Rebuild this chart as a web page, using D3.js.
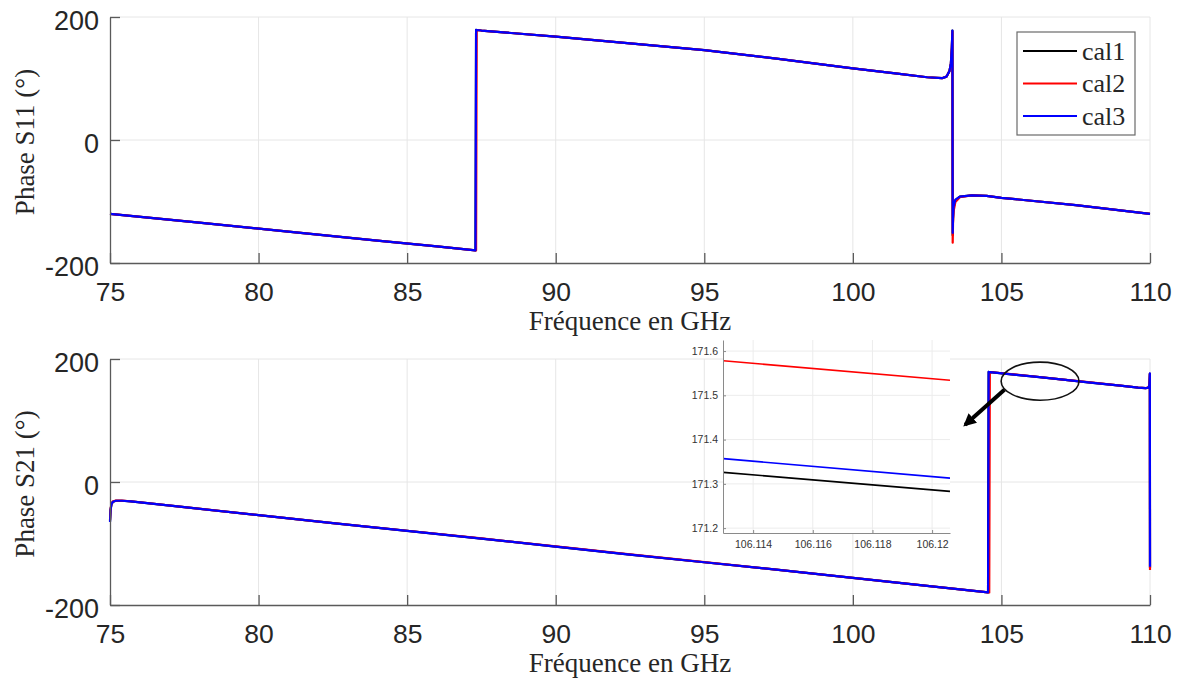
<!DOCTYPE html>
<html>
<head>
<meta charset="utf-8">
<script src="https://cdn.jsdelivr.net/npm/d3@7"></script>
<style>
  html, body { margin: 0; padding: 0; background: #fff; }
  svg { display: block; }
</style>
</head>
<body>
<div id="chart"></div>
<script>
// ---------------- DATA ----------------
const seriesNames = ["cal1", "cal2", "cal3"];
const seriesColors = ["#000000", "#ff0000", "#0000ff"];

const xTicks = [75, 80, 85, 90, 95, 100, 105, 110];
const yTicks = [-200, 0, 200];

// Phase S11 (deg) vs frequency (GHz)
const s11Freq = [75, 78, 81, 84, 86, 87.30, 87.32, 87.34, 87.5, 90, 92.5, 95, 97.5, 100, 101.5, 102.5, 103.0, 103.15, 103.25, 103.3, 103.33, 103.35, 103.36, 103.37, 103.39, 103.45, 103.6, 104, 104.5, 105, 107.5, 110];
const s11Cal1 = [-120, -134.5, -149, -163.5, -173, -179.5, 179, 178.9, 178, 168, 157, 146, 132, 116.5, 108, 102, 100.5, 103, 112, 125, 150, 178, -155, -128, -110, -98, -92, -90, -91, -94, -106, -120];
const s11Cal2 = [-120, -134.5, -149, -163.5, -173, -179.5, -179.6, 178.9, 178, 168, 157, 146, 132, 116.5, 108, 102, 100.5, 103, 112, 124, 148, 176, -167, -136, -116, -101, -93, -90, -91, -94, -106, -120];
const s11Cal3 = [-120, -134.5, -149, -163.5, -173, -179.5, 179, 178.9, 178, 168, 157, 146, 132, 116.5, 108, 102, 100.5, 103, 112, 125, 150, 178, -151, -127, -108, -97, -92, -90, -91, -94, -106, -120];

// Phase S21 (deg) vs frequency (GHz)
const s21Freq = [75, 75.02, 75.05, 75.1, 75.2, 75.4, 75.7, 77.5, 80, 82.5, 85, 87.5, 90, 92.5, 95, 97.5, 100, 102.5, 104.55, 104.57, 104.59, 104.61, 104.7, 105.5, 106.116, 107, 108, 109, 109.6, 109.85, 109.95, 109.98, 109.995, 110];
const s21Cal1 = [-64, -45, -36, -32, -30.5, -30.5, -31.5, -41, -54, -67, -79.5, -92, -105, -118, -130.5, -143, -156, -169, -179.5, 179, 178.9, 178.8, 178.3, 174.3, 171.31, 166.8, 161.7, 156.6, 153.5, 152.5, 153.5, 158, 176, -140];
const s21Cal2 = [-62, -44, -35, -31.5, -30.2, -30.3, -31.3, -40.8, -53.8, -66.8, -79.3, -91.8, -104.8, -117.8, -130.3, -142.8, -155.8, -168.8, -179.5, -179.6, -179.7, 178.9, 178.5, 174.5, 171.56, 167, 161.9, 156.8, 153.7, 152.7, 153.7, 158.2, 176, -143];
const s21Cal3 = [-65, -45, -36, -32, -30.5, -30.5, -31.5, -41, -54, -67, -79.5, -92, -105, -118, -130.5, -143, -156, -169, -179.5, 179, 178.9, 178.8, 178.3, 174.3, 171.35, 166.8, 161.7, 156.6, 153.5, 152.5, 153.5, 158, 176.5, -138];

// Zoomed inset (S21 around 106.116 GHz)
const zoomFreq = [106.113, 106.1206];
const zoomCal1 = [171.326, 171.283];
const zoomCal2 = [171.578, 171.534];
const zoomCal3 = [171.357, 171.313];
const zoomXTicks = [106.114, 106.116, 106.118, 106.12];
const zoomYTicks = [171.2, 171.3, 171.4, 171.5, 171.6];

// Annotation (data coords of S21 panel): ellipse and arrow
const ellipseCenter = [106.3, 164];
const ellipseRadii = [1.31, 31];
const arrowFrom = [105.1, 150];
const arrowTo = [103.78, 93];

// ---------------- LAYOUT ----------------
const W = 1184, H = 680;
const textColor = "#262626";
const axisColor = "#5a5a5a";
const gridColor = "#e6e6e6";
const sansFont = "'Liberation Sans', Arial, Helvetica, sans-serif";
const serifFont = "'Liberation Serif', 'Times New Roman', serif";

const svg = d3.select("#chart").append("svg")
  .attr("width", W).attr("height", H)
  .style("font-family", sansFont);

svg.append("defs").append("marker")
  .attr("id", "arrowhead")
  .attr("viewBox", "0 0 10 10")
  .attr("refX", 8).attr("refY", 5)
  .attr("markerWidth", 3.2).attr("markerHeight", 3.2)
  .attr("markerUnits", "strokeWidth")
  .attr("orient", "auto")
  .append("path").attr("d", "M0,0 L10,5 L0,10 Z").attr("fill", "#000");

function panel(cfg) {
  const x = d3.scaleLinear().domain([75, 110]).range([110, 1150]);
  const y = d3.scaleLinear().domain([-200, 200]).range([cfg.bottom, cfg.top]);
  const g = svg.append("g");

  // grid
  g.append("g").selectAll("line.gx").data(xTicks.filter(d => d !== 75)).join("line")
    .attr("x1", d => x(d)).attr("x2", d => x(d))
    .attr("y1", y(-200)).attr("y2", y(200))
    .attr("stroke", gridColor).attr("stroke-width", 1);
  g.append("g").selectAll("line.gy").data(yTicks.filter(d => d !== -200)).join("line")
    .attr("x1", x(75)).attr("x2", x(110))
    .attr("y1", d => y(d)).attr("y2", d => y(d))
    .attr("stroke", gridColor).attr("stroke-width", 1);

  // series
  const line = d3.line().x(d => x(d[0])).y(d => y(d[1]));
  cfg.series.forEach((vals, i) => {
    const pts = cfg.freq.map((f, k) => [f, vals[k]]);
    g.append("path").datum(pts)
      .attr("d", line)
      .attr("fill", "none")
      .attr("stroke", seriesColors[i])
      .attr("stroke-width", 2.2)
      .attr("stroke-linejoin", "round");
  });

  // axes (MATLAB style: ticks inward)
  const xAxis = d3.axisBottom(x).tickValues(xTicks).tickSize(-10).tickSizeOuter(0).tickPadding(0).tickFormat(d => String(d));
  const gx = g.append("g").attr("transform", `translate(0,${y(-200)})`).call(xAxis);
  gx.select(".domain").attr("stroke", axisColor).attr("stroke-width", 1.3);
  gx.selectAll(".tick line").attr("stroke", axisColor).attr("stroke-width", 1.3);
  gx.selectAll(".tick text").attr("y", 38).attr("dy", null)
    .attr("fill", textColor).style("font-size", "26.5px").style("font-family", sansFont);

  const yAxis = d3.axisLeft(y).tickValues(yTicks).tickSize(-10).tickSizeOuter(0).tickPadding(11).tickFormat(d => String(d));
  const gy = g.append("g").attr("transform", `translate(${x(75)},0)`).call(yAxis);
  gy.select(".domain").attr("stroke", axisColor).attr("stroke-width", 1.3);
  gy.selectAll(".tick line").attr("stroke", axisColor).attr("stroke-width", 1.3);
  gy.selectAll(".tick text").attr("x", -11).attr("dy", "0.45em")
    .attr("fill", textColor).style("font-size", "27px").style("font-family", sansFont);

  // axis titles
  g.append("text")
    .attr("x", (x(75) + x(110)) / 2).attr("y", y(-200) + 67)
    .attr("text-anchor", "middle")
    .attr("fill", textColor)
    .style("font-family", serifFont).style("font-size", "27px")
    .text("Fréquence en GHz");
  g.append("text")
    .attr("transform", `translate(34,${(y(-200) + y(200)) / 2 + 2}) rotate(-90)`)
    .attr("text-anchor", "middle")
    .attr("fill", textColor)
    .style("font-family", serifFont).style("font-size", "27px")
    .text(cfg.ylabel);

  return { x, y, g };
}

const panelS11 = panel({ top: 17, bottom: 263, freq: s11Freq, series: [s11Cal1, s11Cal2, s11Cal3], ylabel: "Phase S11 (°)" });
const panelS21 = panel({ top: 359, bottom: 605, freq: s21Freq, series: [s21Cal1, s21Cal2, s21Cal3], ylabel: "Phase S21 (°)" });

// ---------------- LEGEND (top panel) ----------------
const leg = svg.append("g").attr("transform", "translate(1017,32)");
leg.append("rect").attr("width", 118).attr("height", 103)
  .attr("fill", "#fff").attr("stroke", "#6a6a6a").attr("stroke-width", 1.2);
seriesNames.forEach((n, i) => {
  const yy = 19 + i * 32.5;
  leg.append("line").attr("x1", 6).attr("x2", 60).attr("y1", yy).attr("y2", yy)
    .attr("stroke", seriesColors[i]).attr("stroke-width", 2.2);
  leg.append("text").attr("x", 65).attr("y", yy + 8.5)
    .attr("fill", textColor)
    .style("font-family", serifFont).style("font-size", "26px")
    .text(n);
});

// ---------------- ANNOTATION (bottom panel) ----------------
const bx = panelS21.x, by = panelS21.y;
panelS21.g.append("ellipse")
  .attr("cx", bx(ellipseCenter[0])).attr("cy", by(ellipseCenter[1]))
  .attr("rx", bx(75 + ellipseRadii[0]) - bx(75))
  .attr("ry", by(0) - by(ellipseRadii[1]))
  .attr("fill", "none").attr("stroke", "#111").attr("stroke-width", 1.6);
panelS21.g.append("line")
  .attr("x1", bx(arrowFrom[0])).attr("y1", by(arrowFrom[1]))
  .attr("x2", bx(arrowTo[0])).attr("y2", by(arrowTo[1]))
  .attr("stroke", "#000").attr("stroke-width", 4)
  .attr("marker-end", "url(#arrowhead)");

// ---------------- INSET ----------------
const ix = d3.scaleLinear().domain([106.11299, 106.1206]).range([723, 950]);
const iy = d3.scaleLinear().domain([171.189, 171.625]).range([533, 340]);
const ig = svg.append("g");
ig.append("rect").attr("x", 723).attr("y", 340).attr("width", 227).attr("height", 193).attr("fill", "#fff");
ig.selectAll("line.igx").data(zoomXTicks).join("line")
  .attr("x1", d => ix(d)).attr("x2", d => ix(d)).attr("y1", 340).attr("y2", 533)
  .attr("stroke", "#ececec").attr("stroke-width", 1);
ig.selectAll("line.igy").data(zoomYTicks).join("line")
  .attr("x1", 723).attr("x2", 950).attr("y1", d => iy(d)).attr("y2", d => iy(d))
  .attr("stroke", "#ececec").attr("stroke-width", 1);
const iline = d3.line().x(d => ix(d[0])).y(d => iy(d[1]));
[zoomCal1, zoomCal2, zoomCal3].forEach((vals, i) => {
  ig.append("path").datum(zoomFreq.map((f, k) => [f, vals[k]]))
    .attr("d", iline).attr("fill", "none")
    .attr("stroke", seriesColors[i]).attr("stroke-width", 1.6);
});
const iax = d3.axisBottom(ix).tickValues(zoomXTicks).tickSize(-3).tickSizeOuter(0).tickPadding(0)
  .tickFormat(d => String(+d.toFixed(3)));
const igx = ig.append("g").attr("transform", "translate(0,533)").call(iax);
igx.select(".domain").attr("stroke", "#8a8a8a");
igx.selectAll(".tick line").attr("stroke", "#8a8a8a");
igx.selectAll(".tick text").attr("y", 15).attr("dy", null).attr("fill", "#333")
  .style("font-size", "10.5px").style("font-family", sansFont);
const iay = d3.axisLeft(iy).tickValues(zoomYTicks).tickSize(-3).tickSizeOuter(0).tickPadding(5)
  .tickFormat(d3.format(".1f"));
const igy = ig.append("g").attr("transform", "translate(723,0)").call(iay);
igy.select(".domain").attr("stroke", "#8a8a8a");
igy.selectAll(".tick line").attr("stroke", "#8a8a8a");
igy.selectAll(".tick text").attr("x", -5).attr("fill", "#333")
  .style("font-size", "10.5px").style("font-family", sansFont);
</script>
</body>
</html>
